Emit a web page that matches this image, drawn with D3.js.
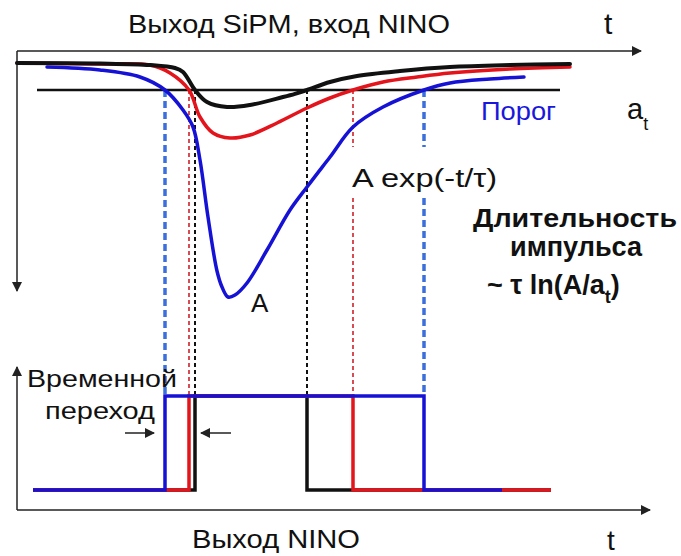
<!DOCTYPE html>
<html>
<head>
<meta charset="utf-8">
<script src="https://cdn.jsdelivr.net/npm/d3@7"></script>
<style>
  html, body { margin: 0; padding: 0; background: #fff; }
  svg { display: block; }
  text { font-family: "Liberation Sans", Arial, sans-serif; }
</style>
</head>
<body>
<svg id="chart" width="681" height="556"></svg>
<script>
// ---- Data (time in arbitrary units, amplitude in arbitrary units, signal goes downward) ----
const blueT   = [6, 16.6, 24.6, 29.6, 33.2, 35.2, 36.6, 38.2, 40, 41, 42.2, 43.6, 46, 50, 54.6, 58, 62.6, 67.2, 73.2, 81.4, 86.6, 94.6, 101.4];
const blueA   = [2, 3.5, 7, 13.5, 23.5, 32, 48.5, 77, 104, 112, 117, 116, 110, 93.5, 73.5, 62, 47, 32, 22, 13.5, 10, 8, 7];
const redT    = [0, 16.6, 26.6, 30.6, 34.4, 36.6, 39.2, 42.6, 46.6, 52, 58, 62.6, 67.2, 73.2, 80, 86.6, 98.6, 110.6];
const redA    = [0, 0.5, 1, 5, 13.5, 27, 35, 37.5, 36, 30, 22.5, 17.5, 13.5, 9.5, 7, 5, 3, 2];
const blackT  = [0, 16.6, 26.6, 31.6, 33.2, 35.6, 38, 42, 46.6, 53.2, 55.6, 58, 62.6, 68, 76.6, 86.6, 98.6, 110.6];
const blackA  = [0, 0.25, 1, 2.5, 4.5, 13.5, 19.5, 22, 21, 17, 15.4, 13.5, 9.5, 6.5, 4, 2, 1, 0.5];
const threshold = 13.5;                 // a_t
const thresholdSpan = [4, 108.6];
// threshold crossing times (leading, trailing) per signal
const seriesNames = ["black", "red", "blue"];
const crossLead  = [35.6, 34.4, 29.6];
const crossTrail = [58, 67.2, 81.4];
// NINO output: start / end of each logic trace
const ninoStart = [3.2, 3.2, 3.2];
const ninoEnd   = [106.8, 106.8, 97];
const colors = { black: "#111111", red: "#e3141b", blue: "#1512d6" };
const dashColors = { black: "#111111", red: "#d0202a", blue: "#3b6fdc" };

// ---- Layout ----
const svg = d3.select("#chart");
const x  = d3.scaleLinear().domain([0, 125]).range([17, 642]);
const y  = d3.scaleLinear().domain([0, 117]).range([63, 297]);   // SiPM signal (down)
const yN = d3.scaleLinear().domain([0, 1]).range([490, 396]);    // NINO output
const topAxisY = 51, botAxisY = 510;

// markers
const defs = svg.append("defs");
function marker(id, color) {
  defs.append("marker").attr("id", id).attr("viewBox", "0 0 10 10")
    .attr("refX", 9).attr("refY", 5).attr("markerWidth", 10).attr("markerHeight", 10)
    .attr("markerUnits", "userSpaceOnUse").attr("orient", "auto")
    .append("path").attr("d", "M0,0 L10,5 L0,10 Z").attr("fill", color);
}
marker("arr", "#222");
marker("arrS", "#222");

// ---- Axes ----
const ax = svg.append("g").attr("stroke", "#222").attr("stroke-width", 1.5).attr("fill", "none");
ax.append("line").attr("x1", x(0)).attr("x2", 641).attr("y1", topAxisY).attr("y2", topAxisY).attr("marker-end", "url(#arr)");
ax.append("line").attr("x1", x(0)).attr("x2", x(0)).attr("y1", topAxisY).attr("y2", 291).attr("marker-end", "url(#arr)");
ax.append("line").attr("x1", x(0)).attr("x2", 650).attr("y1", botAxisY).attr("y2", botAxisY).attr("marker-end", "url(#arr)");
ax.append("line").attr("x1", x(0)).attr("x2", x(0)).attr("y1", botAxisY).attr("y2", 367).attr("marker-end", "url(#arr)");

// ---- Dashed threshold-crossing lines ----
const gapTop = 147, gapBot = 198;
const dash = svg.append("g").attr("fill", "none");
seriesNames.forEach((s, i) => {
  const isBlue = s === "blue";
  const style = sel => sel.attr("stroke", dashColors[s])
    .attr("stroke-width", isBlue ? 3.5 : (s === "black" ? 2 : 1.6))
    .attr("stroke-dasharray", isBlue ? "7,4" : "4,3");
  dash.append("line").attr("x1", x(crossLead[i])).attr("x2", x(crossLead[i]))
    .attr("y1", y(threshold)).attr("y2", yN(1)).call(style);
  if (s === "black") {
    dash.append("line").attr("x1", x(crossTrail[i])).attr("x2", x(crossTrail[i]))
      .attr("y1", y(threshold)).attr("y2", yN(1)).call(style);
  } else {
    dash.append("line").attr("x1", x(crossTrail[i])).attr("x2", x(crossTrail[i]))
      .attr("y1", y(threshold)).attr("y2", gapTop).call(style);
    dash.append("line").attr("x1", x(crossTrail[i])).attr("x2", x(crossTrail[i]))
      .attr("y1", gapBot).attr("y2", yN(1)).call(style);
  }
});

// ---- Threshold line ----
svg.append("line").attr("x1", x(thresholdSpan[0])).attr("x2", x(thresholdSpan[1]))
  .attr("y1", y(threshold)).attr("y2", y(threshold))
  .attr("stroke", "#111").attr("stroke-width", 2.5);

// ---- Signals ----
const line = d3.line().x(d => x(d[0])).y(d => y(d[1])).curve(d3.curveCatmullRom.alpha(0.5));
const sig = svg.append("g").attr("fill", "none").attr("stroke-linecap", "round");
sig.append("path").attr("d", line(d3.zip(blueT, blueA))).attr("stroke", colors.blue).attr("stroke-width", 3.5);
sig.append("path").attr("d", line(d3.zip(redT, redA))).attr("stroke", colors.red).attr("stroke-width", 3.5);
sig.append("path").attr("d", line(d3.zip(blackT, blackA))).attr("stroke", colors.black).attr("stroke-width", 4);

// ---- NINO output pulses ----
const pulse = svg.append("g").attr("fill", "none").attr("stroke-width", 3.5);
seriesNames.forEach((s, i) => {
  const pts = [[ninoStart[i], 0], [crossLead[i], 0], [crossLead[i], 1], [crossTrail[i], 1], [crossTrail[i], 0], [ninoEnd[i], 0]];
  pulse.append("path").attr("d", d3.line().x(d => x(d[0])).y(d => yN(d[1]))(pts))
    .attr("stroke", colors[s]);
});

// ---- Text ----
function txt(str, px, py, size, opts = {}) {
  const t = svg.append("text").attr("x", px).attr("y", py).attr("font-size", size)
    .attr("fill", opts.fill || "#111").attr("font-weight", opts.bold ? "bold" : "normal")
    .attr("text-anchor", opts.anchor || "start").text(str);
  if (opts.len) t.attr("textLength", opts.len).attr("lengthAdjust", "spacingAndGlyphs");
  return t;
}
txt("Выход SiPM, вход NINO", 128, 33, 25, { len: 322 });
txt("t", 604, 34, 30);
txt("Порог", 481, 120, 25, { fill: "#1a17dc", len: 75 });
const at = txt("a", 627, 119, 29);
at.append("tspan").attr("font-size", 18).attr("dy", 11).text("t");
txt("A exp(-t/τ)", 352, 187, 26, { len: 145 });
txt("A", 251, 312, 26);
txt("Длительность", 575, 227, 25, { bold: true, anchor: "middle", len: 204 });
txt("импульса", 576, 256, 27, { bold: true, anchor: "middle", len: 132 });
const f = txt("~ τ ln(A/a", 487, 294, 27, { bold: true });
f.append("tspan").attr("font-size", 18).attr("dy", 9).text("t");
f.append("tspan").attr("dy", -9).text(")");
txt("Временной", 27, 387, 24, { len: 150 });
txt("переход", 45, 419, 24, { len: 110 });
txt("Выход NINO", 192, 548, 26, { len: 168 });
txt("t", 607, 550, 28);

// small arrows (timing walk)
const ar = svg.append("g").attr("stroke", "#222").attr("stroke-width", 1.5);
ar.append("line").attr("x1", 125).attr("x2", 154).attr("y1", 433).attr("y2", 433).attr("marker-end", "url(#arrS)");
ar.append("line").attr("x1", 231).attr("x2", 201).attr("y1", 433).attr("y2", 433).attr("marker-end", "url(#arrS)");
</script>
</body>
</html>
